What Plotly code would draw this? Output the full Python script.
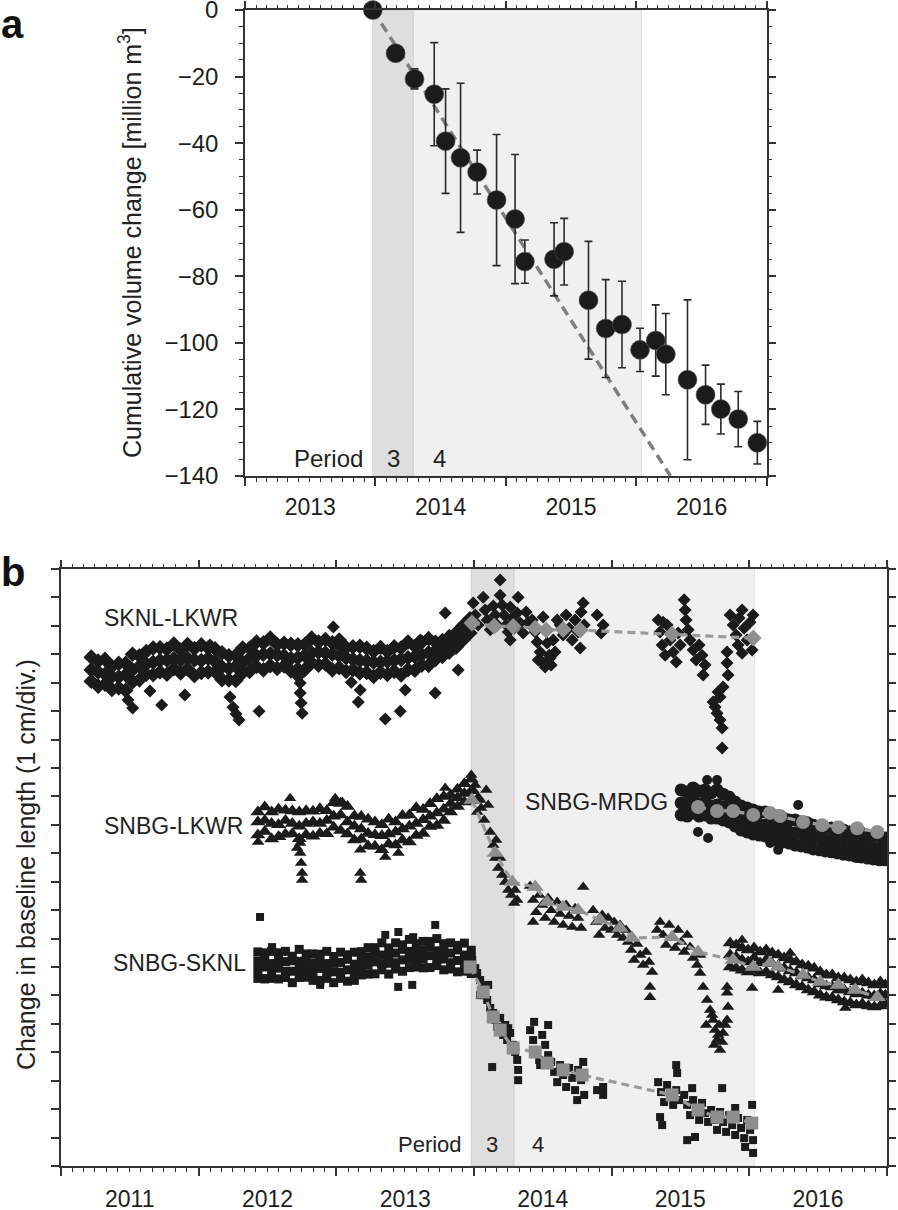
import math
from datetime import datetime
import plotly.graph_objects as go

# ---------------- Panel a: cumulative volume change ----------------
VOL_T = [2013.98, 2014.155, 2014.30, 2014.451, 2014.538, 2014.653, 2014.78, 2014.929, 2015.071, 2015.146,
         2015.37, 2015.447, 2015.634, 2015.766, 2015.891, 2016.029, 2016.149, 2016.226, 2016.392, 2016.53,
         2016.647, 2016.78, 2016.926]
VOL_V = [0, -13.0, -20.7, -25.3, -39.4, -44.4, -48.7, -57.1, -62.8, -75.6,
         -74.9, -72.6, -87.2, -95.7, -94.5, -102.1, -99.3, -103.4, -111.1, -115.6,
         -119.9, -122.9, -130.0]
VOL_E = [0, 2.0, 3.0, 15.5, 15.7, 22.4, 6.6, 19.7, 19.4, 6.5,
         11.0, 10.0, 17.7, 14.7, 13.0, 6.5, 10.7, 12.2, 24.0, 8.9,
         7.5, 8.3, 6.4]
FIT_T = [2013.98, 2016.262]
FIT_V = [0, -140]
VOL_TICKS = [0, -20, -40, -60, -80, -100, -120, -140]
VOL_TICKTEXT = ["0", "\u221220", "\u221240", "\u221260", "\u221280", "\u2212100", "\u2212120", "\u2212140"]

PERIOD3 = [2013.98, 2014.29]
PERIOD4 = [2014.29, 2016.04]

# ---------------- Panel b: baseline lengths (cm) ----------------
# SKNL-LKWR (diamonds), pre-eruption band: upper / middle / lower envelope readings
SKNL_LKWR_T = [2011.22, 2011.27, 2011.32, 2011.37, 2011.42, 2011.47, 2011.52, 2011.57, 2011.62, 2011.67,
               2011.72, 2011.77, 2011.82, 2011.87, 2011.92, 2011.97, 2012.02, 2012.07, 2012.12, 2012.17,
               2012.22, 2012.27, 2012.32, 2012.37, 2012.42, 2012.47, 2012.52, 2012.57, 2012.62, 2012.67,
               2012.72, 2012.77, 2012.82, 2012.87, 2012.92, 2012.97, 2013.02, 2013.07, 2013.12, 2013.17,
               2013.22, 2013.27, 2013.32, 2013.37, 2013.42, 2013.47, 2013.52, 2013.57, 2013.62, 2013.67,
               2013.72, 2013.77, 2013.82, 2013.87, 2013.92, 2013.97]
SKNL_LKWR_HI = [17.90, 17.76, 17.82, 17.57, 17.68, 17.68, 18.00, 17.94, 18.10, 18.22,
                18.23, 18.18, 18.36, 18.15, 18.34, 18.20, 18.33, 18.22, 18.19, 18.05,
                17.95, 17.96, 18.22, 18.21, 18.43, 18.40, 18.57, 18.34, 18.39, 18.35,
                18.33, 18.34, 18.57, 18.43, 18.52, 18.40, 18.50, 18.24, 18.26, 18.28,
                18.21, 18.10, 18.24, 18.10, 18.26, 18.22, 18.43, 18.28, 18.42, 18.55,
                18.42, 18.48, 18.62, 18.75, 19.00, 19.25]
SKNL_LKWR_MID = [17.45, 17.38, 17.30, 17.22, 17.20, 17.28, 17.45, 17.58, 17.66, 17.72,
                 17.78, 17.80, 17.84, 17.80, 17.86, 17.80, 17.78, 17.86, 17.75, 17.55,
                 17.50, 17.58, 17.70, 17.86, 17.95, 18.00, 18.02, 17.98, 17.95, 17.85,
                 17.88, 17.96, 18.05, 18.08, 18.04, 18.00, 17.95, 17.88, 17.82, 17.78,
                 17.76, 17.72, 17.72, 17.75, 17.78, 17.82, 17.88, 17.92, 17.98, 18.05,
                 18.12, 18.20, 18.32, 18.50, 18.75, 19.00]
SKNL_LKWR_LO = [17.05, 16.88, 16.95, 16.76, 16.82, 16.73, 17.03, 17.10, 17.30, 17.28,
                17.38, 17.30, 17.49, 17.34, 17.48, 17.25, 17.36, 17.38, 17.39, 17.11,
                17.10, 17.08, 17.35, 17.40, 17.57, 17.45, 17.60, 17.50, 17.59, 17.41,
                17.48, 17.46, 17.70, 17.62, 17.66, 17.45, 17.53, 17.40, 17.46, 17.34,
                17.36, 17.22, 17.37, 17.29, 17.40, 17.27, 17.46, 17.44, 17.62, 17.61,
                17.82, 17.92, 18.07, 18.25, 18.50, 18.75]
SKNL_LKWR_OUT_T = [2011.521, 2011.487, 2011.732, 2012.25, 2012.272, 2012.294, 2012.228, 2012.439, 2012.737, 2012.737,
                   2012.744, 2012.751, 2012.722, 2012.977, 2013.108, 2013.159, 2013.355, 2013.464, 2013.791, 2013.718,
                   2013.885, 2012.664, 2012.504, 2012.083, 2013.028, 2013.609, 2013.50, 2011.90, 2013.173, 2011.647]
SKNL_LKWR_OUT_Y = [16.11, 16.39, 16.22, 16.14, 15.90, 15.69, 16.50, 16.00, 16.99, 16.64,
                   16.29, 15.93, 17.20, 18.96, 17.02, 16.32, 15.72, 16.00, 19.45, 16.64,
                   17.45, 18.33, 18.50, 18.33, 18.22, 18.50, 16.74, 16.57, 16.74, 16.71]
SKNL_LKWR_SYN_T = [2013.994, 2014.009, 2014.03, 2014.067, 2014.081, 2014.096, 2014.118, 2014.14, 2014.154, 2014.169,
                   2014.19, 2014.19, 2014.205, 2014.219, 2014.234, 2014.249, 2014.263, 2014.278, 2014.292, 2014.321,
                   2014.314, 2014.336, 2014.357, 2014.379, 2014.394, 2014.263,
                   2014.423, 2014.445, 2014.459, 2014.481, 2014.496, 2014.517, 2014.532, 2014.547, 2014.561, 2014.576,
                   2014.59, 2014.605, 2014.503, 2014.467, 2014.517, 2014.554,
                   2014.626, 2014.648, 2014.67, 2014.692, 2014.714, 2014.735, 2014.757, 2014.779, 2014.794, 2014.772,
                   2014.801, 2014.895, 2014.939, 2014.924,
                   2015.339, 2015.353, 2015.368, 2015.39, 2015.404, 2015.426, 2015.448, 2015.47, 2015.484, 2015.499,
                   2015.375, 2015.528, 2015.535, 2015.542, 2015.557,
                   2015.571, 2015.593, 2015.615, 2015.637, 2015.658, 2015.68, 2015.666,
                   2015.84, 2015.84, 2015.847, 2015.811, 2015.789, 2015.738, 2015.753, 2015.767, 2015.789, 2015.804,
                   2015.804, 2015.775,
                   2015.862, 2015.884, 2015.906, 2015.927, 2015.949, 2015.964, 2015.986, 2016.007, 2016.029, 2016.022,
                   2015.949, 2015.92]
SKNL_LKWR_SYN_Y = [19.80, 19.38, 19.03, 20.01, 19.56, 19.21, 18.86, 19.70, 19.38, 19.03,
                   20.61, 20.08, 19.73, 19.38, 19.03, 18.78, 19.66, 19.28, 18.92, 20.01,
                   19.45, 19.10, 18.75, 19.49, 19.13, 18.50,
                   19.21, 18.78, 18.43, 18.08, 17.73, 18.86, 18.40, 17.97, 17.62, 18.50,
                   18.08, 19.21, 19.31, 17.80, 17.55, 17.87,
                   19.03, 18.68, 19.38, 18.92, 18.50, 19.21, 18.78, 19.49, 19.80, 18.22,
                   19.03, 19.38, 19.03, 18.75,
                   19.21, 18.78, 18.33, 17.97, 19.03, 18.50, 18.08, 17.73, 18.75, 18.33,
                   19.13, 19.92, 19.56, 19.21, 18.86,
                   18.50, 18.15, 17.80, 18.33, 17.97, 17.62, 17.27,
                   18.08, 17.69, 17.27, 16.85, 16.50, 16.32, 16.15, 15.93, 15.69, 15.41,
                   14.70, 16.67,
                   19.38, 19.03, 18.68, 19.28, 19.56, 18.92, 18.50, 19.13, 19.38, 18.15,
                   18.04, 18.33]
SKNL_LKWR_TREND_T = [2013.985, 2014.147, 2014.285, 2014.445, 2014.525, 2014.648, 2014.772, 2015.44, 2016.03]
SKNL_LKWR_TREND_Y = [19.10, 18.99, 18.98, 18.92, 18.85, 18.87, 18.85, 18.71, 18.57]

# SNBG baselines, pre-eruption epochs
SNBG_T = [2012.43, 2012.48, 2012.53, 2012.58, 2012.63, 2012.68, 2012.73, 2012.78, 2012.83, 2012.88,
          2012.93, 2012.98, 2013.03, 2013.08, 2013.13, 2013.18, 2013.23, 2013.28, 2013.33, 2013.38,
          2013.43, 2013.48, 2013.53, 2013.58, 2013.63, 2013.68, 2013.73, 2013.78, 2013.83, 2013.88,
          2013.93, 2013.98]
# SNBG-LKWR (triangles)
SNBG_LKWR_HI = [12.45, 12.63, 12.45, 12.55, 12.51, 12.49, 12.45, 12.50, 12.48, 12.57,
                12.50, 12.78, 12.75, 12.65, 12.31, 12.29, 12.20, 12.10, 12.00, 12.20,
                12.10, 12.33, 12.35, 12.60, 12.54, 12.74, 12.92, 13.00, 13.05, 13.25,
                13.45, 13.60]
SNBG_LKWR_MID = [12.10, 12.15, 12.05, 12.00, 12.15, 12.05, 11.95, 12.05, 12.10, 12.05,
                 12.15, 12.30, 12.35, 12.10, 11.95, 11.85, 11.70, 11.65, 11.62, 11.68,
                 11.75, 11.85, 11.95, 12.05, 12.18, 12.30, 12.42, 12.55, 12.75, 12.95,
                 13.10, 13.20]
SNBG_LKWR_LO = [11.64, 11.77, 11.50, 11.58, 11.67, 11.69, 11.51, 11.65, 11.60, 11.70,
                11.69, 11.92, 11.80, 11.68, 11.47, 11.49, 11.26, 11.25, 11.12, 11.33,
                11.29, 11.47, 11.40, 11.63, 11.70, 11.94, 11.98, 12.15, 12.45, 12.65,
                12.80, 12.85]
SNBG_LKWR_OUT_T = [2012.432, 2012.664, 2012.737, 2012.737, 2012.744, 2012.751, 2012.751, 2012.715, 2012.991, 2013.042,
                   2013.173, 2013.18, 2013.173, 2013.355, 2013.791, 2013.45, 2012.59]
SNBG_LKWR_OUT_Y = [11.40, 12.94, 11.36, 11.01, 10.66, 10.31, 10.06, 11.19, 12.94, 12.80,
                   10.31, 10.06, 11.12, 10.87, 13.30, 11.01, 11.57]
SNBG_LKWR_SYN_T = [2013.98, 2014.009, 2014.03, 2014.052, 2014.074, 2014.089, 2014.103, 2014.118, 2014.14, 2014.154,
                   2014.176, 2014.19, 2014.205, 2014.227, 2014.249, 2014.27, 2014.292, 2014.314, 2014.299, 2014.045,
                   2014.023, 2013.994, 2014.161,
                   2014.408, 2014.43, 2014.452, 2014.474, 2014.496, 2014.517, 2014.539, 2014.561, 2014.583, 2014.605,
                   2014.626, 2014.648, 2014.67, 2014.692, 2014.714, 2014.735, 2014.757, 2014.779, 2014.794, 2014.43,
                   2014.866, 2014.888, 2014.91, 2014.932, 2014.953, 2014.975, 2014.997, 2015.019, 2015.041, 2015.062,
                   2015.084, 2015.106,
                   2015.12, 2015.142, 2015.164, 2015.186, 2015.208, 2015.23, 2015.251, 2015.273, 2015.295, 2015.28,
                   2015.28,
                   2015.331, 2015.353, 2015.375, 2015.397, 2015.419, 2015.44, 2015.462, 2015.484, 2015.506, 2015.528,
                   2015.55, 2015.571, 2015.593, 2015.622, 2015.644,
                   2015.644, 2015.666, 2015.695, 2015.717, 2015.738, 2015.753, 2015.767, 2015.789, 2015.775, 2015.804,
                   2015.811, 2015.826, 2015.84, 2015.847, 2015.84, 2015.84, 2015.731, 2015.688, 2015.746, 2015.782,
                   2016.022, 2016.211, 2016.698, 2015.949, 2016.298]
SNBG_LKWR_SYN_Y = [13.75, 13.40, 12.98, 12.59, 12.17, 13.23, 12.70, 11.75, 11.29, 10.83,
                   10.48, 10.83, 10.24, 9.99, 9.71, 9.53, 9.25, 9.36, 9.71, 12.87,
                   12.45, 13.23, 11.47,
                   9.85, 9.36, 8.93, 9.53, 9.18, 8.72, 9.43, 9.00, 8.58, 9.29,
                   8.86, 8.48, 9.18, 8.79, 8.41, 9.07, 8.72, 8.37, 9.81, 8.58,
                   9.00, 8.58, 8.13, 8.83, 8.37, 8.72, 8.30, 8.58, 8.13, 8.48,
                   8.02, 8.30,
                   7.88, 7.60, 7.25, 7.81, 7.42, 7.07, 7.53, 7.18, 6.82, 6.30,
                   5.94,
                   8.30, 8.58, 8.13, 7.77, 8.48, 8.02, 7.67, 8.30, 7.88, 7.53,
                   8.13, 7.70, 7.32, 7.07, 7.42,
                   6.79, 6.30, 5.84, 5.49, 5.14, 4.78, 4.43, 4.08, 4.61, 4.36,
                   4.68, 4.96, 5.14, 5.59, 6.09, 6.30, 5.31, 4.96, 4.26, 4.96,
                   6.26, 6.19, 5.56, 7.95, 7.49]
SNBG_LKWR_POST_T = [2015.862, 2015.906, 2015.949, 2015.993, 2016.036, 2016.08, 2016.124, 2016.167, 2016.211, 2016.254,
                    2016.298, 2016.342, 2016.385, 2016.429, 2016.472, 2016.516, 2016.56, 2016.603, 2016.647, 2016.69,
                    2016.734, 2016.778, 2016.821, 2016.865, 2016.908, 2016.952, 2016.988]
SNBG_LKWR_POST_HI = [7.84, 7.77, 7.67, 7.60, 7.67, 7.53, 7.60, 7.49, 7.42, 7.32,
                     7.25, 7.18, 7.07, 7.03, 6.96, 6.82, 6.72, 6.72, 6.61, 6.61,
                     6.54, 6.47, 6.54, 6.44, 6.37, 6.47, 6.37]
SNBG_LKWR_POST_MID = [7.42, 7.35, 7.25, 7.18, 7.32, 7.14, 7.25, 7.11, 7.03, 6.96,
                      6.86, 6.79, 6.68, 6.61, 6.54, 6.40, 6.33, 6.30, 6.19, 6.19,
                      6.12, 6.05, 6.08, 6.01, 5.98, 6.05, 6.01]
SNBG_LKWR_POST_LO = [7.00, 6.96, 6.89, 6.82, 6.89, 6.79, 6.82, 6.72, 6.65, 6.54,
                     6.47, 6.37, 6.30, 6.19, 6.12, 6.01, 5.94, 5.91, 5.84, 5.77,
                     5.73, 5.66, 5.70, 5.63, 5.59, 5.63, 5.70]
SNBG_LKWR_TREND_T = [2013.985, 2014.154, 2014.278, 2014.445, 2014.532, 2014.648, 2014.757, 2014.917, 2015.062, 2015.149,
                     2015.44, 2015.629, 2015.884, 2016.03, 2016.152, 2016.211, 2016.392, 2016.516, 2016.647, 2016.77,
                     2016.93]
SNBG_LKWR_TREND_Y = [12.87, 11.01, 9.99, 9.81, 9.29, 9.11, 9.00, 8.65, 8.37, 8.02,
                     8.05, 7.53, 7.25, 7.00, 7.14, 7.00, 6.72, 6.47, 6.37, 6.19,
                     5.94]

# SNBG-SKNL (squares)
SNBG_SKNL_HI = [7.53, 7.50, 7.55, 7.50, 7.55, 7.38, 7.62, 7.46, 7.46, 7.45,
                7.55, 7.37, 7.52, 7.43, 7.52, 7.54, 7.68, 7.68, 7.85, 7.67,
                7.85, 7.78, 7.97, 7.82, 7.90, 7.90, 8.00, 7.82, 7.85, 7.76,
                7.84, 7.59]
SNBG_SKNL_MH = [7.21, 7.30, 7.12, 7.26, 7.19, 7.22, 7.20, 7.19, 7.14, 7.25,
                7.12, 7.13, 7.16, 7.27, 7.10, 7.27, 7.36, 7.48, 7.42, 7.43,
                7.49, 7.62, 7.55, 7.55, 7.58, 7.70, 7.57, 7.58, 7.49, 7.60,
                7.42, 7.32]
SNBG_SKNL_ML = [6.91, 7.00, 6.82, 6.96, 6.85, 6.85, 6.94, 6.91, 6.84, 6.95,
                6.82, 6.83, 6.82, 6.90, 6.84, 6.99, 7.06, 7.18, 7.12, 7.13,
                7.15, 7.25, 7.29, 7.27, 7.28, 7.40, 7.27, 7.28, 7.15, 7.23,
                7.16, 7.04]
SNBG_SKNL_LO = [6.60, 6.58, 6.60, 6.58, 6.63, 6.45, 6.63, 6.64, 6.53, 6.53,
                6.60, 6.45, 6.60, 6.50, 6.53, 6.72, 6.75, 6.76, 6.90, 6.75,
                6.93, 6.85, 6.98, 7.00, 6.97, 6.98, 7.05, 6.90, 6.93, 6.83,
                6.85, 6.77]
SNBG_SKNL_OUT_T = [2012.446, 2012.533, 2012.882, 2013.355, 2013.449, 2013.551, 2013.718, 2012.475, 2013.45, 2013.558]
SNBG_SKNL_OUT_Y = [8.76, 7.70, 6.37, 8.13, 6.30, 6.37, 8.48, 6.61, 8.23, 8.05]
SNBG_SKNL_SYN_T = [2013.987, 2014.009, 2014.023, 2014.045, 2014.067, 2014.081, 2014.096, 2014.118, 2014.14, 2014.154,
                   2014.169, 2014.19, 2014.212, 2014.227, 2014.241, 2014.263, 2014.285, 2014.299, 2014.314, 2014.321,
                   2014.321, 2014.132, 2014.045, 2014.103, 2014.19, 2014.249,
                   2014.408, 2014.43, 2014.452, 2014.474, 2014.496, 2014.517, 2014.539, 2014.539, 2014.437, 2014.481,
                   2014.561, 2014.583, 2014.605, 2014.626, 2014.648, 2014.67, 2014.692, 2014.714, 2014.735, 2014.757,
                   2014.779, 2014.801, 2014.794, 2014.75, 2014.895, 2014.939, 2014.939,
                   2015.339, 2015.36, 2015.382, 2015.404, 2015.426, 2015.448, 2015.47, 2015.491, 2015.477, 2015.47,
                   2015.353, 2015.368,
                   2015.528, 2015.55, 2015.571, 2015.593, 2015.615, 2015.637, 2015.658, 2015.68, 2015.702, 2015.55,
                   2015.607, 2015.586,
                   2015.724, 2015.746, 2015.767, 2015.789, 2015.811, 2015.833, 2015.855, 2015.877, 2015.899, 2015.92,
                   2015.942, 2015.964, 2015.986, 2016.007, 2016.029, 2016.029, 2015.971, 2015.804, 2015.899, 2016.022]
SNBG_SKNL_SYN_Y = [7.25, 6.96, 6.79, 6.54, 6.30, 6.01, 5.84, 5.56, 5.38, 5.14,
                   4.89, 4.78, 4.61, 4.96, 4.43, 4.68, 4.26, 4.01, 3.73, 3.38,
                   3.02, 3.48, 6.01, 6.37, 5.21, 4.85,
                   4.78, 4.43, 4.08, 3.73, 4.61, 4.26, 4.96, 3.90, 5.07, 3.55,
                   3.66, 3.31, 2.95, 3.55, 3.20, 2.78, 3.45, 3.10, 2.67, 3.38,
                   3.02, 2.50, 3.66, 2.32, 2.67, 2.78, 2.50,
                   2.95, 2.60, 2.25, 2.85, 2.50, 2.15, 2.67, 2.32, 3.27, 3.55,
                   1.72, 1.44,
                   2.50, 2.15, 1.79, 2.32, 1.97, 1.62, 2.22, 1.86, 1.55, 0.91,
                   1.02, 2.74,
                   1.97, 1.62, 1.27, 1.90, 1.55, 1.20, 1.79, 1.44, 1.09, 1.69,
                   1.34, 0.98, 1.62, 1.27, 0.91, 0.46, 0.67, 2.74, 2.04, 2.15]
SNBG_SKNL_TREND_T = [2013.972, 2014.067, 2014.14, 2014.19, 2014.285, 2014.445, 2014.532, 2014.648, 2014.786, 2015.44,
                     2015.629, 2015.767, 2015.884, 2016.02]
SNBG_SKNL_TREND_Y = [7.00, 6.12, 5.24, 4.78, 4.15, 4.01, 3.62, 3.38, 3.20, 2.50,
                     1.97, 1.72, 1.72, 1.51]

# SNBG-MRDG (circles)
SNBG_MRDG_T = [2015.506, 2015.55, 2015.593, 2015.637, 2015.68, 2015.724, 2015.767, 2015.811, 2015.855, 2015.898,
               2015.942, 2015.986, 2016.029, 2016.073, 2016.116, 2016.16, 2016.203, 2016.247, 2016.291, 2016.334,
               2016.378, 2016.422, 2016.465, 2016.509, 2016.552, 2016.596, 2016.64, 2016.683, 2016.727, 2016.77,
               2016.814, 2016.858, 2016.901, 2016.945, 2016.988]
SNBG_MRDG_HI = [13.23, 13.16, 13.30, 13.19, 13.23, 13.12, 13.23, 13.08, 12.98, 12.80,
                12.66, 12.59, 12.52, 12.45, 12.45, 12.35, 12.31, 12.24, 12.17, 12.17,
                12.10, 12.07, 11.99, 11.96, 11.89, 11.89, 11.82, 11.82, 11.75, 11.71,
                11.71, 11.64, 11.61, 11.61, 11.54]
SNBG_MRDG_MID = [12.77, 12.73, 12.87, 12.73, 12.80, 12.66, 12.70, 12.63, 12.52, 12.38,
                 12.24, 12.17, 12.10, 12.03, 11.99, 11.92, 11.89, 11.82, 11.75, 11.71,
                 11.68, 11.64, 11.57, 11.54, 11.47, 11.47, 11.40, 11.40, 11.33, 11.29,
                 11.29, 11.22, 11.19, 11.19, 11.15]
SNBG_MRDG_LO = [12.35, 12.31, 12.42, 12.31, 12.35, 12.24, 12.24, 12.17, 12.10, 11.96,
                11.82, 11.75, 11.68, 11.64, 11.61, 11.54, 11.47, 11.40, 11.36, 11.29,
                11.26, 11.22, 11.15, 11.12, 11.08, 11.05, 11.01, 10.97, 10.94, 10.90,
                10.87, 10.83, 10.80, 10.77, 10.77]
SNBG_MRDG_OUT_T = [2015.629, 2015.702, 2015.695, 2016.356, 2016.792, 2016.988, 2016.211, 2015.767, 2016.153]
SNBG_MRDG_OUT_Y = [11.75, 11.54, 13.58, 12.70, 10.83, 10.77, 11.12, 13.58, 11.36]
SNBG_MRDG_TREND_T = [2015.629, 2015.767, 2015.884, 2016.03, 2016.152, 2016.225, 2016.392, 2016.53, 2016.647, 2016.784,
                     2016.93]
SNBG_MRDG_TREND_Y = [12.63, 12.49, 12.49, 12.35, 12.42, 12.31, 12.10, 11.99, 11.92, 11.88,
                     11.75]

RANGE_A = ["2013-01-01", "2017-01-01"]
RANGE_B = ["2011-01-01", "2017-01-01"]


def to_date(t):
    y = int(math.floor(t))
    start = datetime(y, 1, 1)
    end = datetime(y + 1, 1, 1)
    return start + (end - start) * (t - y)


def D(ts):
    return [to_date(t) for t in ts]


FONT = "Liberation Sans, Arial, Helvetica, sans-serif"
INK = "#1b1b1b"
AX = "#333333"
GRAY_MK = "#8e8e8e"
W, H = 898, 1210


def px_x(a, b):
    return [a / W, b / W]


def px_y(top, bottom):
    return [1 - bottom / H, 1 - top / H]


fig = go.Figure()

# ---------- panel a traces ----------
fig.add_trace(go.Scatter(x=D(FIT_T), y=FIT_V, mode="lines", xaxis="x", yaxis="y",
                         line=dict(color="#7f7f7f", width=3.5, dash="10px,6px"), hoverinfo="skip"))
fig.add_trace(go.Scatter(x=D(VOL_T), y=VOL_V, mode="markers", xaxis="x", yaxis="y",
                         marker=dict(size=19, color=INK, line=dict(color="#555555", width=0.6)),
                         error_y=dict(type="data", array=VOL_E, visible=True, color="#2a2a2a",
                                      thickness=1.6, width=4),
                         cliponaxis=False))


# ---------- panel b traces ----------
def black(ts, ys, symbol, size):
    fig.add_trace(go.Scatter(x=D(ts), y=ys, mode="markers", xaxis="x2", yaxis="y2",
                             marker=dict(symbol=symbol, size=size, color=INK, line=dict(width=0)),
                             hoverinfo="skip"))


def trend(ts, ys, symbol, size):
    fig.add_trace(go.Scatter(x=D(ts), y=ys, mode="lines+markers", xaxis="x2", yaxis="y2",
                             line=dict(color="#9a9a9a", width=3.2, dash="8px,5px"),
                             marker=dict(symbol=symbol, size=size, color=GRAY_MK, line=dict(width=0)),
                             hoverinfo="skip"))


# dense bands (bigger overlapping marks) and scattered points
black(SKNL_LKWR_T * 3, SKNL_LKWR_HI + SKNL_LKWR_MID + SKNL_LKWR_LO, "diamond", 12)
black(SKNL_LKWR_OUT_T + SKNL_LKWR_SYN_T, SKNL_LKWR_OUT_Y + SKNL_LKWR_SYN_Y, "diamond", 10)
black(SNBG_T * 3 + SNBG_LKWR_POST_T * 3,
      SNBG_LKWR_HI + SNBG_LKWR_MID + SNBG_LKWR_LO + SNBG_LKWR_POST_HI + SNBG_LKWR_POST_MID + SNBG_LKWR_POST_LO,
      "triangle-up", 13)
black(SNBG_LKWR_OUT_T + SNBG_LKWR_SYN_T, SNBG_LKWR_OUT_Y + SNBG_LKWR_SYN_Y, "triangle-up", 11)
black(SNBG_T * 4, SNBG_SKNL_HI + SNBG_SKNL_MH + SNBG_SKNL_ML + SNBG_SKNL_LO, "square", 9)
black(SNBG_SKNL_OUT_T + SNBG_SKNL_SYN_T, SNBG_SKNL_OUT_Y + SNBG_SKNL_SYN_Y, "square", 8)
black(SNBG_MRDG_T * 3, SNBG_MRDG_HI + SNBG_MRDG_MID + SNBG_MRDG_LO, "circle", 13)
black(SNBG_MRDG_OUT_T, SNBG_MRDG_OUT_Y, "circle", 10)

trend(SKNL_LKWR_TREND_T, SKNL_LKWR_TREND_Y, "diamond", 13)
trend(SNBG_LKWR_TREND_T, SNBG_LKWR_TREND_Y, "triangle-up", 15)
trend(SNBG_SKNL_TREND_T, SNBG_SKNL_TREND_Y, "square", 13)
trend(SNBG_MRDG_TREND_T, SNBG_MRDG_TREND_Y, "circle", 14)

# invisible anchors for the mirrored (top/right) tick axes
fig.add_trace(go.Scatter(x=[to_date(2014.5)], y=[-500], xaxis="x3", yaxis="y3", mode="markers",
                         marker=dict(opacity=0), hoverinfo="skip"))
fig.add_trace(go.Scatter(x=[to_date(2014.5)], y=[-500], xaxis="x4", yaxis="y4", mode="markers",
                         marker=dict(opacity=0), hoverinfo="skip"))

# ---------- shading ----------
shapes = []
for xr, yr in (("x", "y domain"), ("x2", "y2 domain")):
    shapes.append(dict(type="rect", xref=xr, yref=yr, x0=to_date(PERIOD4[0]), x1=to_date(PERIOD4[1]),
                       y0=0, y1=1, fillcolor="#f0f0f0", line=dict(color="#e2e2e2", width=1), layer="below"))
    shapes.append(dict(type="rect", xref=xr, yref=yr, x0=to_date(PERIOD3[0]), x1=to_date(PERIOD3[1]),
                       y0=0, y1=1, fillcolor="#dedede", line=dict(color="#d0d0d0", width=1), layer="below"))


# ---------- axes ----------
def xaxis(domain, anchor, rng, tick0, fs, standoff, labels=True, side="bottom", overlaying=None):
    d = dict(domain=domain, anchor=anchor, type="date", range=rng, tick0=tick0, dtick="M12",
             tickformat="%Y", ticklabelmode="period", ticks="outside", ticklen=8, tickwidth=1.5,
             tickcolor=AX, showline=labels, linecolor=AX, linewidth=1.5, mirror=labels,
             showgrid=False, zeroline=False, automargin=False, side=side, showticklabels=labels,
             tickfont=dict(family=FONT, size=fs, color="#1e1e1e"),
             minor=dict(dtick="M1", tick0=tick0, ticks="outside", ticklen=4, tickwidth=1.2,
                        tickcolor=AX, showgrid=False))
    if labels:
        d["ticklabelstandoff"] = standoff
    if overlaying:
        d["overlaying"] = overlaying
    return d


def yaxis_a(labels=True, side="left", overlaying=None):
    d = dict(domain=px_y(10, 476), anchor="x", range=[-140, 0], tickmode="array", tickvals=VOL_TICKS,
             ticktext=VOL_TICKTEXT, ticks="outside", ticklen=8, tickwidth=1.5, tickcolor=AX,
             showline=labels, linecolor=AX, linewidth=1.5, mirror=labels, showgrid=False, zeroline=False,
             automargin=False, side=side, showticklabels=labels, ticklabeloverflow="allow",
             tickfont=dict(family=FONT, size=24, color="#1e1e1e"),
             minor=dict(tickmode="linear", tick0=0, dtick=5, ticks="outside", ticklen=4, tickwidth=1.2,
                        tickcolor=AX, showgrid=False))
    if labels:
        d["ticklabelstandoff"] = 12
    if overlaying:
        d["overlaying"] = overlaying
    return d


def yaxis_b(side="left", overlaying=None):
    d = dict(domain=px_y(569, 1166), anchor="x2", range=[0, 21], dtick=1, tick0=0,
             ticks="outside", ticklen=8, tickwidth=1.5, tickcolor=AX, showline=overlaying is None,
             linecolor=AX, linewidth=1.5, mirror=overlaying is None, showgrid=False, zeroline=False,
             showticklabels=False, automargin=False, side=side)
    if overlaying:
        d["overlaying"] = overlaying
    return d


fig.update_layout(
    width=W, height=H, margin=dict(l=0, r=0, t=0, b=0, autoexpand=False),
    paper_bgcolor="white", plot_bgcolor="white", showlegend=False,
    font=dict(family=FONT, color="#222"),
    xaxis=xaxis(px_x(245, 767), "y", RANGE_A, "2013-01-01", 23, 2),
    yaxis=yaxis_a(),
    xaxis2=xaxis(px_x(61, 887), "y2", RANGE_B, "2011-01-01", 23, 4),
    yaxis2=yaxis_b(),
    xaxis3=xaxis(px_x(245, 767), "y", RANGE_A, "2013-01-01", 23, 0, labels=False, side="top", overlaying="x"),
    yaxis3=yaxis_a(labels=False, side="right", overlaying="y"),
    xaxis4=xaxis(px_x(61, 887), "y2", RANGE_B, "2011-01-01", 23, 0, labels=False, side="top", overlaying="x2"),
    yaxis4=yaxis_b(side="right", overlaying="y2"),
    shapes=shapes,
)
fig.layout.yaxis3.anchor = "x"
fig.layout.yaxis4.anchor = "x2"

ann = []
ann.append(dict(text="<b>a</b>", xref="paper", yref="paper", x=-1 / W, y=1 - 24 / H, xanchor="left",
                yanchor="middle", showarrow=False, font=dict(family=FONT, size=40, color="#111")))
ann.append(dict(text="<b>b</b>", xref="paper", yref="paper", x=-1 / W, y=1 - 572 / H, xanchor="left",
                yanchor="middle", showarrow=False, font=dict(family=FONT, size=40, color="#111")))
ann.append(dict(text="Cumulative volume change [million m<sup>3</sup>]", xref="paper", yref="paper",
                x=130 / W, y=1 - 243 / H, textangle=-90, xanchor="center", yanchor="middle",
                showarrow=False, font=dict(family=FONT, size=25, color="#222")))
ann.append(dict(text="Change in baseline length (1 cm/div.)", xref="paper", yref="paper",
                x=26 / W, y=1 - 865 / H, textangle=-90, xanchor="center", yanchor="middle",
                showarrow=False, font=dict(family=FONT, size=25, color="#222")))
for xr, yr, yv, px, p3, p4, fs in (("x", "y", -134.8, 2013.92, 2014.142, 2014.494, 24),
                                   ("x2", "y2", 0.77, 2013.929, 2014.13, 2014.467, 22)):
    ann.append(dict(text="Period", xref=xr, yref=yr, x=to_date(px), y=yv, xanchor="right", yanchor="middle",
                    showarrow=False, font=dict(family=FONT, size=fs, color="#222")))
    ann.append(dict(text="3", xref=xr, yref=yr, x=to_date(p3), y=yv, xanchor="center", yanchor="middle",
                    showarrow=False, font=dict(family=FONT, size=fs, color="#222")))
    ann.append(dict(text="4", xref=xr, yref=yr, x=to_date(p4), y=yv, xanchor="center", yanchor="middle",
                    showarrow=False, font=dict(family=FONT, size=fs, color="#222")))
for name, t, v in (("SKNL-LKWR", 2011.30, 19.28), ("SNBG-LKWR", 2011.30, 11.96),
                   ("SNBG-SKNL", 2011.365, 7.14), ("SNBG-MRDG", 2014.355, 12.80)):
    ann.append(dict(text=name, xref="x2", yref="y2", x=to_date(t), y=v, xanchor="left", yanchor="middle",
                    showarrow=False, font=dict(family=FONT, size=23, color="#222")))
fig.update_layout(annotations=ann)

fig.write_html("out.html", config={"displayModeBar": False},
               post_script="document.body.style.margin='0';document.body.style.overflow='hidden';")
